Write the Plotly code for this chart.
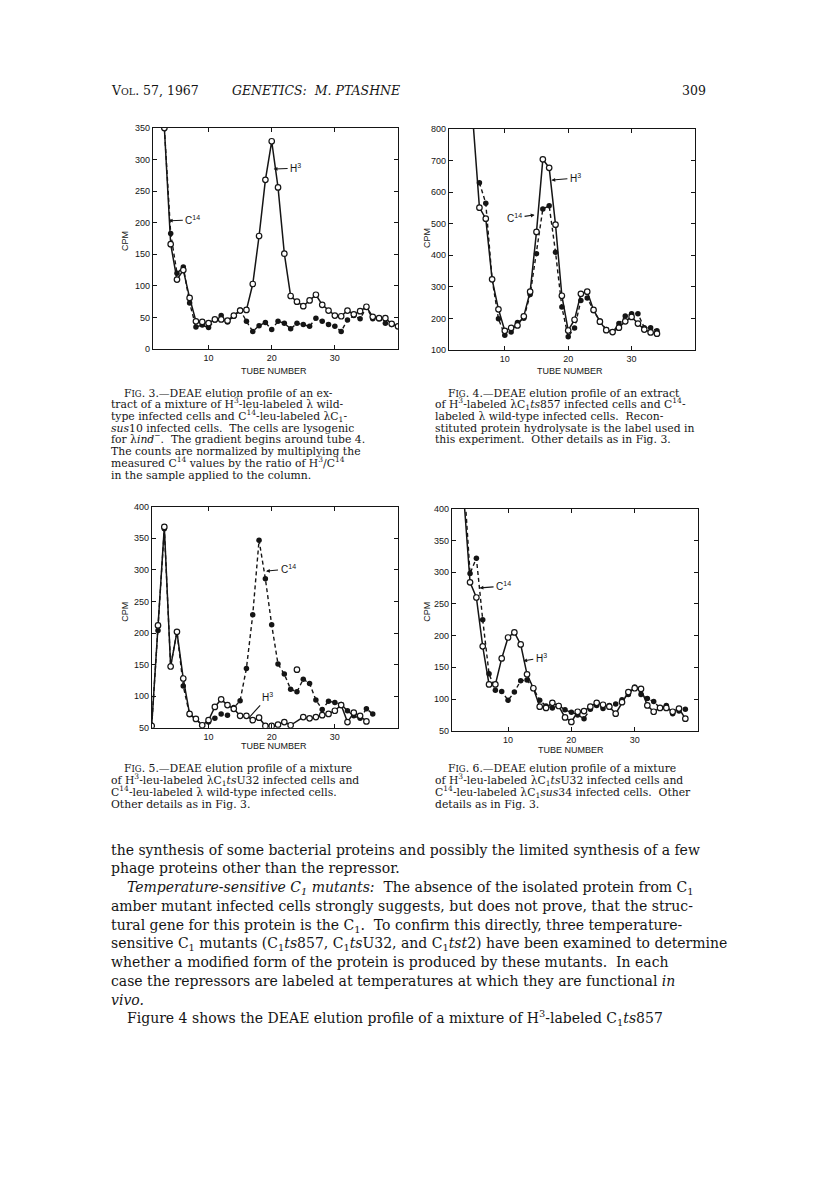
import plotly.graph_objects as go

# page size; the html body adds an 8px margin, so the figure is drawn 16px smaller
W, H = 816, 1177
M = 8

# ---- data ----
# Fig. 3
tubes_f3 = list(range(3, 41))
h3_f3 = [350, 166, 110, 125, 81, 44, 43, 41, 47, 47, 45, 53, 61, 62, 103, 179, 268, 329, 256, 151,
         84, 75, 68, 77, 86, 70, 61, 53, 52, 61, 55, 60, 67, 51, 49, 49, 40, 36]
c14_f3 = [350, 183, 120, 130, 73, 35, 38, 34, 46, 53, 43, 52, 62, 44, 28, 37, 42, 31, 44, 41,
          32, 41, 39, 36, 49, 44, 39, 36, 28, 46, 53, 48, 66, 48, 48, 41, 39, 36]

# Fig. 4
tubes_h3_f4 = list(range(5, 35))
h3_f4 = [820, 551, 516, 324, 229, 161, 170, 178, 207, 285, 474, 704, 677, 497, 272, 162, 196, 278,
         285, 227, 190, 163, 157, 171, 191, 205, 184, 165, 156, 152]
tubes_c14_f4 = list(range(6, 35))
c14_f4 = [630, 565, 324, 199, 147, 157, 187, 201, 276, 405, 547, 557, 410, 236, 142, 170, 257,
          265, 225, 192, 165, 157, 184, 208, 215, 215, 171, 171, 161]

# Fig. 5
tubes_c14_f5 = list(range(1, 37))
c14_f5 = [53, 204, 365, 148, 202, 116, 71, 64, 54, 59, 65, 72, 70, 82, 93, 144, 229, 347, 286, 213,
          151, 135, 111, 107, 127, 120, 94, 79, 92, 90, 87, 77, 69, 65, 80, 72]
tubes_h3_f5 = list(range(1, 36))
h3_f5 = [53, 212, 368, 147, 202, 128, 72, 64, 54, 62, 83, 95, 86, 80, 69, 69, 62, 66, 53, 53,
         55, 59, 54, None, 67, 65, 67, 70, 72, 77, 86, 59, 74, 69, 60]
stray_tube_f5 = [24]
stray_h3_f5 = [142]

# Fig. 6
tubes_f6 = list(range(3, 39))
h3_f6 = [420, 284, 260, 183, 123, 123, 164, 197, 205, 186, 139, 117, 88, 86, 94, 89, 71, 64, 80, 81,
         88, 94, 91, 88, 77, 95, 111, 117, 116, 90, 80, 86, 86, 80, 85, 69]
c14_f6 = [450, 298, 322, 225, 140, 114, 112, 98, 111, 129, 130, 117, 98, 89, 86, 90, 83, 79, 75, 69,
          84, 90, 85, 90, 92, 99, 107, 119, 107, 101, 96, 86, 90, 77, 81, 84]

x_ticks = [10, 20, 30]

INK = "#151515"
SANS = "Liberation Sans"
SERIF = "DejaVu Serif"

FW, FH = W - 2 * M, H - 2 * M


def px(x):
    return (x - M) / FW


def py(y):
    return 1 - (y - M) / FH


fig = go.Figure()


def add_h3(xs, ys, n):
    fig.add_trace(go.Scatter(
        x=xs, y=ys, xaxis="x" + n, yaxis="y" + n, mode="lines+markers", connectgaps=True,
        line=dict(color=INK, width=1.5),
        marker=dict(symbol="circle", size=5.5, color="white", line=dict(color=INK, width=1.2)),
    ))


def add_c14(xs, ys, n):
    fig.add_trace(go.Scatter(
        x=xs, y=ys, xaxis="x" + n, yaxis="y" + n, mode="lines+markers",
        line=dict(color=INK, width=1.4, dash="4px,3px"),
        marker=dict(symbol="circle", size=5.5, color=INK),
    ))


add_c14(tubes_f3, c14_f3, "")
add_h3(tubes_f3, h3_f3, "")
add_c14(tubes_c14_f4, c14_f4, "2")
add_h3(tubes_h3_f4, h3_f4, "2")
add_c14(tubes_c14_f5, c14_f5, "3")
add_h3(tubes_h3_f5, h3_f5, "3")
fig.add_trace(go.Scatter(
    x=stray_tube_f5, y=stray_h3_f5, xaxis="x3", yaxis="y3", mode="markers",
    marker=dict(symbol="circle", size=5.5, color="white", line=dict(color=INK, width=1.2)),
))
add_c14(tubes_f6, c14_f6, "4")
add_h3(tubes_f6, h3_f6, "4")

axis_style = dict(
    showline=True, linecolor=INK, linewidth=1.3, mirror="ticks", ticks="inside",
    ticklen=4, tickwidth=1.2, tickcolor=INK, showgrid=False, zeroline=False,
    tickfont=dict(family=SANS, size=9, color=INK),
)

# plot boxes in page pixels: (left, right, top, bottom)
boxes = {
    "": (153, 398, 124, 347),
    "2": (449, 695, 125, 348),
    "3": (152, 398, 506, 729),
    "4": (452, 698, 508, 732),
}
xranges = {"": [1.2, 40], "2": [1.2, 40], "3": [1.05, 40], "4": [1.15, 40]}
yranges = {"": [0, 350], "2": [100, 800], "3": [50, 400], "4": [50, 400]}
ydticks = {"": 50, "2": 100, "3": 50, "4": 50}

layout_axes = {}
for n, (l, r, t, b) in boxes.items():
    layout_axes["xaxis" + n] = dict(axis_style, domain=[px(l), px(r)], range=xranges[n],
                                    tickvals=x_ticks, anchor="y" + n)
    layout_axes["yaxis" + n] = dict(axis_style, domain=[py(b), py(t)], range=yranges[n],
                                    dtick=ydticks[n], tick0=0, anchor="x" + n)

fig.update_layout(**layout_axes)

ann = []
# invisible sup + sub so every line gets the same box height
PAD = "<sup>\u00a0</sup><sub>\u00a0</sub>"


def text(x, y, s, size=12, family=SERIF, anchor="left", angle=0, pad=True):
    ann.append(dict(x=px(x), y=py(y), xref="paper", yref="paper", text=s + (PAD if pad else ""),
                    showarrow=False, xanchor=anchor, yanchor="middle", textangle=angle,
                    font=dict(family=family, size=size, color=INK)))


def label(n, x, y, s, ax, ay, head=2):
    ann.append(dict(x=x, y=y, xref="x" + n, yref="y" + n, text=s, showarrow=True,
                    ax=ax, ay=ay, arrowhead=head, arrowsize=0.7, arrowwidth=1.1,
                    arrowcolor=INK, standoff=0, startstandoff=1,
                    font=dict(family=SANS, size=10, color=INK)))


# series labels inside the plots
label("", 20.3, 285, "H<sup>3</sup>", 22, -1)
label("", 3.7, 203, "C<sup>14</sup>", 24, -1)
label("2", 17.35, 638, "H<sup>3</sup>", 24, -2)
label("2", 14.7, 528, "C<sup>14</sup>", -20, 3)
label("3", 19.1, 298, "C<sup>14</sup>", 22, -2)
label("3", 16.5, 67, "H<sup>3</sup>", 18, -20, head=0)
label("4", 5.5, 275, "C<sup>14</sup>", 24, -2)
label("4", 12.4, 160, "H<sup>3</sup>", 18, -3)

# axis titles
for cx, cy in [(125, 238), (427, 235), (125, 612), (427, 612)]:
    text(cx, cy, "CPM", size=9, family=SANS, anchor="center", angle=-90, pad=False)
for cx, cy in [(274, 369), (570, 369), (274, 747), (571, 751)]:
    text(cx, cy, "TUBE NUMBER", size=9, family=SANS, anchor="center", pad=False)

# running head
SC = "<span style='font-size:9.5px'>"
text(109, 86, "V" + SC + "OL</span>. 57, 1967", size=12.5, pad=False)
text(316, 86, "<i>GENETICS:  M. PTASHNE</i>", size=12.5, anchor="center", pad=False)
text(708, 86, "309", size=12.5, anchor="right", pad=False)

FIG = "F<span style='font-size:8.5px'>IG</span>."

cap3 = [
    FIG + " 3.—DEAE elution profile of an ex-",
    "tract of a mixture of H<sup>3</sup>-leu-labeled λ wild-",
    "type infected cells and C<sup>14</sup>-leu-labeled λC<sub>1</sub>-",
    "<i>sus</i>10 infected cells.  The cells are lysogenic",
    "for λ<i>ind</i><sup>−</sup>.  The gradient begins around tube 4.",
    "The counts are normalized by multiplying the",
    "measured C<sup>14</sup> values by the ratio of H<sup>3</sup>/C<sup>14</sup>",
    "in the sample applied to the column.",
]
cap4 = [
    FIG + " 4.—DEAE elution profile of an extract",
    "of H<sup>3</sup>-labeled λC<sub>1</sub><i>ts</i>857 infected cells and C<sup>14</sup>-",
    "labeled λ wild-type infected cells.  Recon-",
    "stituted protein hydrolysate is the label used in",
    "this experiment.  Other details as in Fig. 3.",
]
cap5 = [
    FIG + " 5.—DEAE elution profile of a mixture",
    "of H<sup>3</sup>-leu-labeled λC<sub>1</sub><i>ts</i>U32 infected cells and",
    "C<sup>14</sup>-leu-labeled λ wild-type infected cells.",
    "Other details as in Fig. 3.",
]
cap6 = [
    FIG + " 6.—DEAE elution profile of a mixture",
    "of H<sup>3</sup>-leu-labeled λC<sub>1</sub><i>ts</i>U32 infected cells and",
    "C<sup>14</sup>-leu-labeled λC<sub>1</sub><i>sus</i>34 infected cells.  Other",
    "details as in Fig. 3.",
]
for lines, x0, y0 in [(cap3, 109, 391), (cap4, 433, 391), (cap5, 109, 770), (cap6, 433, 770)]:
    for i, s in enumerate(lines):
        text(x0 + (13 if i == 0 else 0), y0 + i * 11.8, s, size=10.8)

body = [
    (109, "the synthesis of some bacterial proteins and possibly the limited synthesis of a few"),
    (109, "phage proteins other than the repressor."),
    (125, "<i>Temperature-sensitive C<sub>1</sub> mutants:</i>  The absence of the isolated protein from C<sub>1</sub>"),
    (109, "amber mutant infected cells strongly suggests, but does not prove, that the struc-"),
    (109, "tural gene for this protein is the C<sub>1</sub>.  To confirm this directly, three temperature-"),
    (109, "sensitive C<sub>1</sub> mutants (C<sub>1</sub><i>ts</i>857, C<sub>1</sub><i>ts</i>U32, and "
          "C<sub>1</sub><i>tst</i>2) have been examined to determine"),
    (109, "whether a modified form of the protein is produced by these mutants.  In each"),
    (109, "case the repressors are labeled at temperatures at which they are functional <i>in</i>"),
    (109, "<i>vivo.</i>"),
    (125, "Figure 4 shows the DEAE elution profile of a mixture of H<sup>3</sup>-labeled "
          "C<sub>1</sub><i>ts</i>857"),
]
for i, (x0, s) in enumerate(body):
    text(x0, 852 + i * 18.9, s, size=14)

fig.update_layout(
    width=FW, height=FH, margin=dict(l=0, r=0, t=0, b=0),
    paper_bgcolor="white", plot_bgcolor="white", showlegend=False,
    annotations=ann,
)

fig.write_html("out.html")
